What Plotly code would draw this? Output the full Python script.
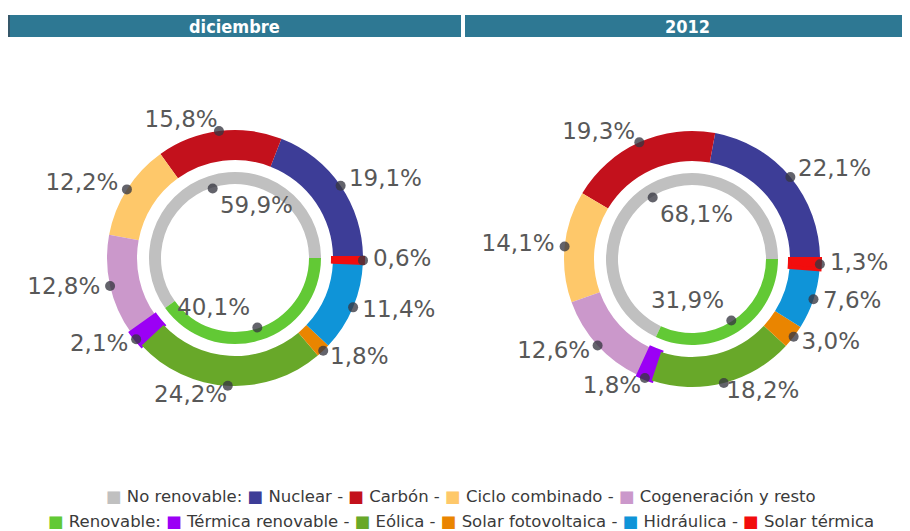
"""Estructura de generación: diciembre vs 2012 (anillos dobles)."""

import numpy as np
import plotly.graph_objects as go

PERIODS = ["diciembre", "2012"]

SOURCES = [
    "Nuclear", "Carbón", "Ciclo combinado", "Cogeneración y resto",
    "Térmica renovable", "Eólica", "Solar fotovoltaica", "Hidráulica", "Solar térmica",
]
SOURCE_COLORS = [
    "#3d3d97", "#c3111c", "#fec86a", "#cb98cb",
    "#9b00f5", "#68a829", "#ea8500", "#0f94d8", "#f20d0d",
]
SHARE_DIC = [19.1, 15.8, 12.2, 12.8, 2.1, 24.2, 1.8, 11.4, 0.6]
SHARE_2012 = [22.1, 19.3, 14.1, 12.6, 1.8, 18.2, 3.0, 7.6, 1.3]

GROUPS = ["No renovable", "Renovable"]
GROUP_COLORS = ["#c0c0c0", "#62c935"]
GROUP_DIC = [59.9, 40.1]
GROUP_2012 = [68.1, 31.9]
GROUP_MEMBERS = [SOURCES[:4], SOURCES[4:]]

HIGHLIGHT = ["Térmica renovable", "Solar térmica"]

HEADER_COLOR = "#2e7893"
LABEL_FONT = dict(family="Verdana, DejaVu Sans, sans-serif", size=23, color="#585858")
DOT_COLOR = "rgba(55,55,65,0.78)"

# ring geometry (radial axis units == pixels)
R_MAX = 128
R_AXIS = 160
OUTER_BASE, OUTER_WIDTH = 98, 30
INNER_BASE, INNER_WIDTH = 74, 12
LABEL_R = R_MAX + 10

# the page body adds an 8px margin, so the figure is laid out in page pixels minus it
PAGE_MARGIN = 8
W, H = 910 - PAGE_MARGIN, 531 - PAGE_MARGIN


def px(x):
    return (x - PAGE_MARGIN) / W


def py(y):
    return 1 - (y - PAGE_MARGIN) / H


def pct(v):
    return f"{v:.1f}".replace(".", ",") + "%"


def mid_angles(values):
    vals = np.asarray(values, dtype=float)
    return (np.cumsum(vals) - vals / 2) * 3.6


def outer_position(angle):
    return "middle right" if np.cos(np.radians(angle)) >= 0 else "middle left"


def inner_position(angle):
    rad = np.radians(angle)
    vert = "bottom" if np.sin(rad) > 0 else "top"
    side = "right" if np.cos(rad) < 0 else "left"
    return f"{vert} {side}"


fig = go.Figure()

series = [(SHARE_DIC, GROUP_DIC), (SHARE_2012, GROUP_2012)]
for i, (shares, groups) in enumerate(series):
    polar = "polar" if i == 0 else f"polar{i + 1}"
    outer_mid = mid_angles(shares)
    inner_mid = mid_angles(groups)

    fig.add_trace(go.Barpolar(
        subplot=polar,
        theta=outer_mid,
        width=[v * 3.6 for v in shares],
        base=[OUTER_BASE] * len(shares),
        r=[OUTER_WIDTH] * len(shares),
        marker=dict(
            color=SOURCE_COLORS,
            line=dict(
                color=SOURCE_COLORS,
                width=[4 if s in HIGHLIGHT else 0 for s in SOURCES],
            ),
        ),
        customdata=SOURCES,
        hovertemplate="%{customdata}<extra></extra>",
        showlegend=False,
    ))
    fig.add_trace(go.Barpolar(
        subplot=polar,
        theta=inner_mid,
        width=[v * 3.6 for v in groups],
        base=[INNER_BASE] * len(groups),
        r=[INNER_WIDTH] * len(groups),
        marker=dict(color=GROUP_COLORS, line=dict(width=0)),
        customdata=GROUPS,
        hovertemplate="%{customdata}<extra></extra>",
        showlegend=False,
    ))
    # dots on the outer edge + labels a bit further out
    fig.add_trace(go.Scatterpolar(
        subplot=polar,
        theta=outer_mid,
        r=[R_MAX] * len(shares),
        mode="markers",
        marker=dict(size=10, color=DOT_COLOR),
        hoverinfo="skip",
        showlegend=False,
    ))
    fig.add_trace(go.Scatterpolar(
        subplot=polar,
        theta=outer_mid,
        r=[LABEL_R] * len(shares),
        mode="text",
        text=[pct(v) for v in shares],
        textposition=[outer_position(a) for a in outer_mid],
        textfont=LABEL_FONT,
        cliponaxis=False,
        hoverinfo="skip",
        showlegend=False,
    ))
    fig.add_trace(go.Scatterpolar(
        subplot=polar,
        theta=inner_mid,
        r=[INNER_BASE - 1] * len(groups),
        mode="markers+text",
        marker=dict(size=10, color=DOT_COLOR),
        text=[pct(v) for v in groups],
        textposition=[inner_position(a) for a in inner_mid],
        textfont=LABEL_FONT,
        cliponaxis=False,
        hoverinfo="skip",
        showlegend=False,
    ))

centers = [(235, 258), (692, 259)]
polar_common = dict(
    bgcolor="rgba(0,0,0,0)",
    angularaxis=dict(rotation=0, direction="counterclockwise", visible=False),
    radialaxis=dict(range=[0, R_AXIS], visible=False),
    barmode="overlay",
)
layout_polars = {}
for i, (cx, cy) in enumerate(centers):
    key = "polar" if i == 0 else f"polar{i + 1}"
    layout_polars[key] = dict(
        polar_common,
        domain=dict(
            x=[px(cx - R_AXIS), px(cx + R_AXIS)],
            y=[py(cy + R_AXIS), py(cy - R_AXIS)],
        ),
    )

# header bars
header_spans = [(8, 461), (465, 910)]
shapes = []
annotations = []
for (x0, x1), title in zip(header_spans, PERIODS):
    shapes.append(dict(
        type="rect", xref="paper", yref="paper",
        x0=px(x0), x1=px(x1), y0=py(37), y1=py(15),
        fillcolor=HEADER_COLOR, line=dict(width=0), layer="below",
    ))
    annotations.append(dict(
        text=f"<b>{title}</b>", xref="paper", yref="paper",
        x=px((x0 + x1) / 2), y=py(26), showarrow=False,
        xanchor="center", yanchor="middle",
        font=dict(family="Liberation Sans Narrow, DejaVu Sans Condensed, Arial Narrow, sans-serif",
                  size=18, color="white"),
    ))
shapes.append(dict(
    type="rect", xref="paper", yref="paper",
    x0=px(8), x1=px(10), y0=py(37), y1=py(15),
    fillcolor="#35586a", line=dict(width=0),
))


def swatch(color):
    return f"<span style='color:{color}'>■</span>"


legend_rows = []
for group, gcolor, members in zip(GROUPS, GROUP_COLORS, GROUP_MEMBERS):
    items = " - ".join(
        f"{swatch(SOURCE_COLORS[SOURCES.index(m)])} {m}" for m in members
    )
    legend_rows.append(f"{swatch(gcolor)} {group}: {items}")

for row, y in zip(legend_rows, [496, 521]):
    annotations.append(dict(
        text=row, xref="paper", yref="paper",
        x=px(461), y=py(y), showarrow=False,
        xanchor="center", yanchor="middle",
        font=dict(family="Verdana, DejaVu Sans, sans-serif", size=16.5, color="#3a3a3a"),
    ))

fig.update_layout(
    width=W,
    height=H,
    margin=dict(l=0, r=0, t=0, b=0),
    paper_bgcolor="white",
    plot_bgcolor="white",
    shapes=shapes,
    annotations=annotations,
    **layout_polars,
)

fig.write_html("out.html")
